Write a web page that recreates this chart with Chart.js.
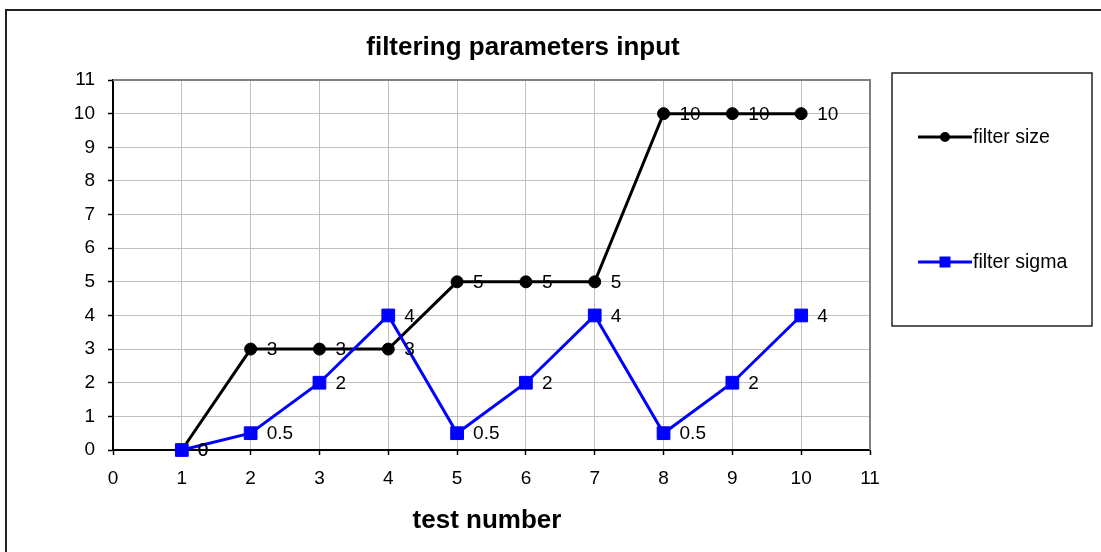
<!DOCTYPE html>
<html>
<head>
<meta charset="utf-8">
<script src="https://cdn.jsdelivr.net/npm/chart.js@4/dist/chart.umd.min.js"></script>
<style>
  html, body { margin: 0; padding: 0; background: #ffffff; }
  #wrap { width: 1101px; height: 552px; position: relative; }
</style>
</head>
<body>
<div id="wrap"><canvas id="c" width="1101" height="552"></canvas></div>
<script>
// ---- data ----
const chartTitle = 'filtering parameters input';
const xAxisTitle = 'test number';
const testNumbers = [1, 2, 3, 4, 5, 6, 7, 8, 9, 10];
const filterSize = [0, 3, 3, 3, 5, 5, 5, 10, 10, 10];
const filterSigma = [0, 0.5, 2, 4, 0.5, 2, 4, 0.5, 2, 4];
const seriesNames = ['filter size', 'filter sigma'];
const axisMin = 0;
const axisMax = 11;

const FONT = '"Liberation Sans", Arial, sans-serif';

const decor = {
  id: 'decor',
  beforeDraw(chart) {
    const ctx = chart.ctx;
    ctx.save();
    ctx.strokeStyle = '#222';
    ctx.lineWidth = 2;
    ctx.beginPath();
    ctx.moveTo(6, 552);
    ctx.lineTo(6, 10);
    ctx.lineTo(1101, 10);
    ctx.stroke();
    ctx.restore();
  },
  beforeDatasetsDraw(chart) {
    const ctx = chart.ctx;
    const a = chart.chartArea;
    ctx.save();
    ctx.strokeStyle = '#808080';
    ctx.lineWidth = 2;
    ctx.beginPath();
    ctx.moveTo(a.left, a.top);
    ctx.lineTo(a.right, a.top);
    ctx.lineTo(a.right, a.bottom);
    ctx.stroke();
    ctx.restore();
  },
  afterDatasetsDraw(chart) {
    const ctx = chart.ctx;
    ctx.save();
    ctx.font = '19px ' + FONT;
    ctx.fillStyle = '#000';
    ctx.textAlign = 'left';
    ctx.textBaseline = 'middle';
    chart.data.datasets.forEach((ds, i) => {
      const meta = chart.getDatasetMeta(i);
      meta.data.forEach((pt, j) => {
        ctx.fillText(String(ds.data[j].y), pt.x + 16, pt.y + 1);
      });
    });
    ctx.restore();
  },
  afterDraw(chart) {
    const ctx = chart.ctx;
    ctx.save();
    // title
    ctx.fillStyle = '#000';
    ctx.font = 'bold 26px ' + FONT;
    ctx.textAlign = 'center';
    ctx.textBaseline = 'alphabetic';
    ctx.fillText(chartTitle, 523, 55);
    // x axis title
    ctx.fillText(xAxisTitle, 487, 528);
    // legend box
    ctx.strokeStyle = '#222';
    ctx.lineWidth = 1.5;
    ctx.strokeRect(892, 73, 200, 253);
    const ys = [137, 262];
    chart.data.datasets.forEach((ds, i) => {
      const y = ys[i];
      ctx.strokeStyle = ds.borderColor;
      ctx.lineWidth = 3;
      ctx.beginPath();
      ctx.moveTo(918, y);
      ctx.lineTo(972, y);
      ctx.stroke();
      ctx.fillStyle = ds.borderColor;
      if (ds.pointStyle === 'circle') {
        ctx.beginPath();
        ctx.arc(945, y, 5, 0, Math.PI * 2);
        ctx.fill();
      } else {
        ctx.fillRect(945 - 5.5, y - 5.5, 11, 11);
      }
      ctx.fillStyle = '#000';
      ctx.font = '19.5px ' + FONT;
      ctx.textAlign = 'left';
      ctx.textBaseline = 'middle';
      ctx.fillText(ds.label, 973, y + 1);
    });
    ctx.restore();
  }
};

new Chart(document.getElementById('c'), {
  type: 'line',
  data: {
    datasets: [
      {
        label: seriesNames[0],
        data: testNumbers.map((x, i) => ({ x: x, y: filterSize[i] })),
        borderColor: '#000000',
        backgroundColor: '#000000',
        borderWidth: 3,
        pointStyle: 'circle',
        pointRadius: 6,
        pointBorderWidth: 1,
        pointBackgroundColor: '#000000',
        pointBorderColor: '#000000',
        tension: 0,
        clip: false,
        order: 1
      },
      {
        label: seriesNames[1],
        data: testNumbers.map((x, i) => ({ x: x, y: filterSigma[i] })),
        borderColor: '#0000ff',
        backgroundColor: '#0000ff',
        borderWidth: 3,
        pointStyle: 'rect',
        pointRadius: 9,
        pointBorderWidth: 1,
        pointBackgroundColor: '#0000ff',
        pointBorderColor: '#0000ff',
        tension: 0,
        clip: false,
        order: 0
      }
    ]
  },
  options: {
    responsive: false,
    animation: false,
    devicePixelRatio: 1,
    events: [],
    layout: { padding: { left: 0, right: 231, top: 80, bottom: 0 } },
    plugins: {
      legend: { display: false },
      title: { display: false },
      tooltip: { enabled: false }
    },
    scales: {
      x: {
        type: 'linear',
        min: axisMin,
        max: axisMax,
        afterFit: (s) => { s.height = 102; },
        ticks: {
          stepSize: 1,
          color: '#000',
          padding: 12,
          font: { family: FONT, size: 19 },
          maxRotation: 0
        },
        grid: { color: '#c0c0c0', lineWidth: 1, tickColor: '#000', tickLength: 5, tickWidth: 1.5 },
        border: { color: '#000', width: 2 }
      },
      y: {
        type: 'linear',
        min: axisMin,
        max: axisMax,
        afterFit: (s) => { s.width = 113; },
        ticks: {
          stepSize: 1,
          color: '#000',
          padding: 13,
          font: { family: FONT, size: 19 }
        },
        grid: { color: '#c0c0c0', lineWidth: 1, tickColor: '#000', tickLength: 5, tickWidth: 1.5 },
        border: { color: '#000', width: 2 }
      }
    }
  },
  plugins: [decor]
});
</script>
</body>
</html>
